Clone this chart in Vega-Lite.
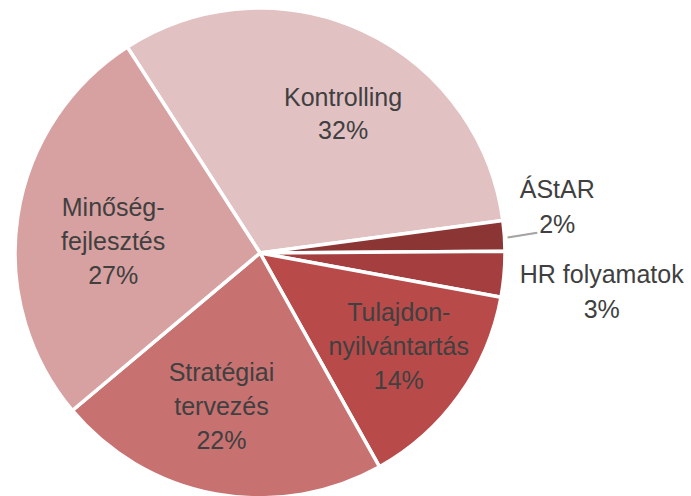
{
  "$schema": "https://vega.github.io/schema/vega-lite/v6.json",
  "width": 520,
  "height": 506,
  "autosize": "none",
  "padding": {"left": 0, "top": 0, "right": 171, "bottom": 0},
  "background": "white",
  "config": {"view": {"stroke": null}},
  "data": {
    "values": [
      {"category": "Kontrolling", "value": 32, "order": 1, "label": "Kontrolling\n32%"},
      {"category": "ÁStAR", "value": 2, "order": 2, "label": "ÁStAR\n2%"},
      {"category": "HR folyamatok", "value": 3, "order": 3, "label": "HR folyamatok\n3%"},
      {"category": "Tulajdon-nyilvántartás", "value": 14, "order": 4, "label": "Tulajdon-\nnyilvántartás\n14%"},
      {"category": "Stratégiai tervezés", "value": 22, "order": 5, "label": "Stratégiai\ntervezés\n22%"},
      {"category": "Minőség-fejlesztés", "value": 27, "order": 6, "label": "Minőség-\nfejlesztés\n27%"}
    ]
  },
  "encoding": {
    "theta": {"field": "value", "type": "quantitative", "stack": true, "scale": {"range": [-0.5725, 5.7107]}},
    "order": {"field": "order", "type": "quantitative"}
  },
  "layer": [
    {
      "mark": {"type": "arc", "outerRadius": 245, "stroke": "white", "strokeWidth": 3.5},
      "encoding": {
        "color": {
          "field": "category", "type": "nominal", "legend": null,
          "scale": {
            "domain": ["Kontrolling", "ÁStAR", "HR folyamatok", "Tulajdon-nyilvántartás", "Stratégiai tervezés", "Minőség-fejlesztés"],
            "range": ["#e2c1c3", "#8b3535", "#a53f3f", "#b84b4a", "#c87171", "#d8a1a1"]
          }
        }
      }
    },
    {
      "mark": {"type": "text", "radius": 160, "dx": 16, "dy": -9.5, "font": "Liberation Sans", "fontSize": 25, "lineHeight": 33, "lineBreak": "\n", "fill": "#404040"},
      "encoding": {"text": {"condition": {"test": "datum.category === 'Kontrolling'", "field": "label"}, "value": ""}}
    },
    {
      "mark": {"type": "text", "radius": 300, "dx": -2, "dy": -42, "font": "Liberation Sans", "fontSize": 25, "lineHeight": 35, "lineBreak": "\n", "fill": "#404040"},
      "encoding": {"text": {"condition": {"test": "datum.category === 'ÁStAR'", "field": "label"}, "value": ""}}
    },
    {
      "mark": {"type": "text", "radius": 344, "dx": -1, "dy": -8, "font": "Liberation Sans", "fontSize": 25, "lineHeight": 35, "lineBreak": "\n", "fill": "#404040"},
      "encoding": {"text": {"condition": {"test": "datum.category === 'HR folyamatok'", "field": "label"}, "value": ""}}
    },
    {
      "mark": {"type": "text", "radius": 167, "dx": 3, "dy": -37, "font": "Liberation Sans", "fontSize": 25, "lineHeight": 34, "lineBreak": "\n", "fill": "#404040"},
      "encoding": {"text": {"condition": {"test": "datum.category === 'Tulajdon-nyilvántartás'", "field": "label"}, "value": ""}}
    },
    {
      "mark": {"type": "text", "radius": 158, "dx": -10, "dy": -35, "font": "Liberation Sans", "fontSize": 25, "lineHeight": 34, "lineBreak": "\n", "fill": "#404040"},
      "encoding": {"text": {"condition": {"test": "datum.category === 'Stratégiai tervezés'", "field": "label"}, "value": ""}}
    },
    {
      "mark": {"type": "text", "radius": 147.5, "dx": -1, "dy": -23, "font": "Liberation Sans", "fontSize": 25, "lineHeight": 34, "lineBreak": "\n", "fill": "#404040"},
      "encoding": {"text": {"condition": {"test": "datum.category === 'Minőség-fejlesztés'", "field": "label"}, "value": ""}}
    },
    {
      "mark": {"type": "text", "radius": 263, "dy": -1, "angle": 351, "font": "Liberation Sans", "fontSize": 30, "fill": "#a6a6a6"},
      "encoding": {"text": {"condition": {"test": "datum.category === 'ÁStAR'", "value": "—"}, "value": ""}}
    }
  ]
}
